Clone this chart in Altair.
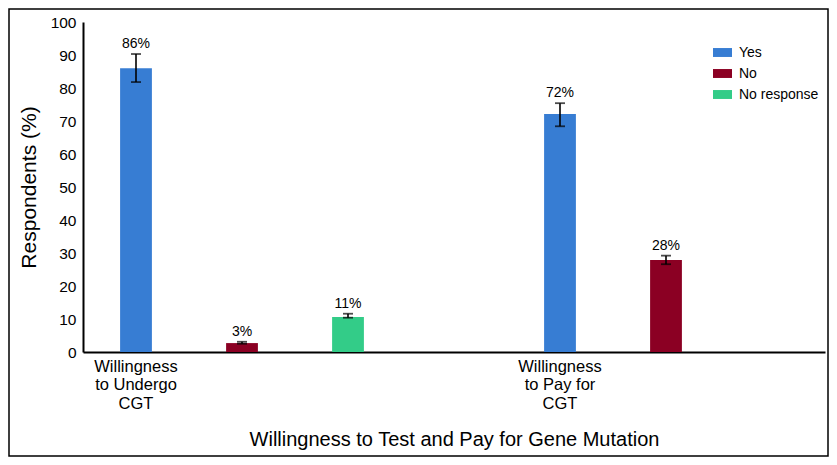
import altair as alt
import pandas as pd

# ---- data ----
groups = ["Willingness to Undergo CGT", "Willingness to Pay for CGT"]
responses = ["Yes", "No", "No response"]
yes_vals = [86.0, 72.1]
no_vals = [2.7, 27.9]
nr_vals = [10.6]            # only the first group has a "No response" bar
yes_lo = [81.8, 68.4]
yes_hi = [90.3, 75.4]
no_lo = [2.5, 26.6]
no_hi = [3.1, 29.2]
nr_lo = [10.4]
nr_hi = [11.6]
yes_txt = ["86%", "72%"]
no_txt = ["3%", "28%"]
nr_txt = ["11%"]
y_ticks = [0, 10, 20, 30, 40, 50, 60, 70, 80, 90, 100]
colors = ["#377dd3", "#8b0023", "#33cc88"]

# slot layout: 3 slots per group, one empty slot between groups
slots = ["G1|Yes", "G1|No", "G1|No response", "gap",
         "G2|Yes", "G2|No", "G2|No response"]

rows = []
for gi in range(2):
    key = "G%d" % (gi + 1)
    rows.append(dict(slot=key + "|Yes", group=groups[gi], response="Yes",
                     value=yes_vals[gi], lo=yes_lo[gi], hi=yes_hi[gi], txt=yes_txt[gi]))
    rows.append(dict(slot=key + "|No", group=groups[gi], response="No",
                     value=no_vals[gi], lo=no_lo[gi], hi=no_hi[gi], txt=no_txt[gi]))
for i, v in enumerate(nr_vals):
    rows.append(dict(slot="G1|No response", group=groups[0], response="No response",
                     value=v, lo=nr_lo[i], hi=nr_hi[i], txt=nr_txt[i]))
df = pd.DataFrame(rows)

FONT = "Liberation Sans"

label_expr = ("datum.value == 'G1|Yes' ? ['Willingness', 'to Undergo', 'CGT'] : "
              "datum.value == 'G2|Yes' ? ['Willingness', 'to Pay for', 'CGT'] : ''")

x_scale = alt.Scale(domain=slots, paddingInner=0.7, paddingOuter=0.35)
x_axis = alt.Axis(
    title="Willingness to Test and Pay for Gene Mutation",
    labelExpr=label_expr,
    labelAngle=0,
    labelFont=FONT,
    labelFontSize=16.5,
    labelColor="black",
    labelLineHeight=18.5,
    labelPadding=6,
    labelBaseline="top",
    labelOverlap=False,
    ticks=False,
    domainColor="black",
    domainWidth=2,
    titleFont=FONT,
    titleFontSize=20,
    titleFontWeight="normal",
    titleColor="black",
    titleY=87,
    titleBaseline="middle",
)

y_scale = alt.Scale(domain=[0, 100], nice=False)
y_axis = alt.Axis(
    title="Respondents (%)",
    values=y_ticks,
    ticks=False,
    grid=False,
    labelOverlap=False,
    labelFont=FONT,
    labelFontSize=15.5,
    labelColor="black",
    labelPadding=7,
    domainColor="black",
    domainWidth=2,
    titleFont=FONT,
    titleFontSize=21,
    titleFontWeight="normal",
    titleColor="black",
    titleX=-48,
    titleBaseline="alphabetic",
)


def X():
    return alt.X("slot:N", scale=x_scale, axis=x_axis)


def Y(field):
    return alt.Y(field, scale=y_scale, axis=y_axis)


base = alt.Chart(df)

bars = base.mark_bar().encode(
    x=X(),
    y=Y("value:Q"),
    color=alt.Color(
        "response:N",
        scale=alt.Scale(domain=responses, range=colors),
        legend=alt.Legend(
            title=None,
            orient="none",
            legendX=630,
            legendY=21,
            symbolType="M-1,-0.47H1V0.47H-1Z",
            symbolSize=361,
            symbolStrokeWidth=0,
            labelFont=FONT,
            labelFontSize=14,
            labelColor="black",
            labelOffset=7,
            rowPadding=4,
        ),
    ),
)

err = base.mark_rule(color="black", strokeWidth=1.6).encode(
    x=X(), y=Y("lo:Q"), y2="hi:Q"
)
cap_hi = base.mark_tick(color="black", size=10, thickness=1.8, orient="horizontal").encode(
    x=X(), y=Y("hi:Q")
)
cap_lo = base.mark_tick(color="black", size=10, thickness=1.8, orient="horizontal").encode(
    x=X(), y=Y("lo:Q")
)
labels = base.mark_text(font=FONT, fontSize=14, color="black", baseline="middle", dy=-10).encode(
    x=X(), y=Y("hi:Q"), text="txt:N"
)

border = alt.Chart(pd.DataFrame({"b": [0]})).mark_rect(
    fill=None, stroke="black", strokeWidth=1.5
).encode(
    x=alt.value(-74), x2=alt.value(745), y=alt.value(-13), y2=alt.value(434)
)

chart = alt.layer(bars, err, cap_hi, cap_lo, labels, border).properties(
    width=742,
    height=330,
    padding={"left": 75, "top": 14, "right": 4, "bottom": 105},
    autosize=alt.AutoSizeParams(type="none"),
    background="white",
).configure_view(stroke=None)

chart.save("out.html", embed_options={"renderer": "svg", "actions": False})
